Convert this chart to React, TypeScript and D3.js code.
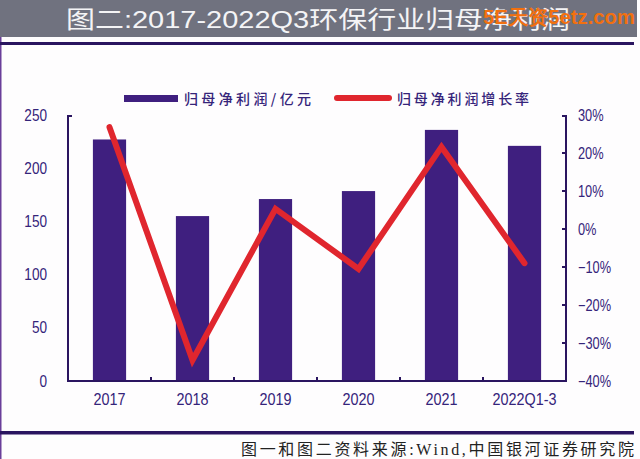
import React, { useEffect, useRef } from 'react';
import * as d3 from 'd3';

const categories = ['2017', '2018', '2019', '2020', '2021', '2022Q1-3'];
const profit = [227, 155, 171, 178.5, 236, 221];
const growth = [26.8, -34.5, 5.3, -10.5, 21.6, -9];
const leftTicks = [0, 50, 100, 150, 200, 250];
const rightTicks = [-40, -30, -20, -10, 0, 10, 20, 30];

const purple = '#3f1f7f';
const dark = '#2a1560';
const labelColor = '#35247a';
const red = '#e0262e';
const sans = '"Liberation Sans", Arial, sans-serif';
const cjk = '"Noto Sans CJK SC", sans-serif';

const App: React.FC = () => {
  const ref = useRef<SVGSVGElement>(null);

  useEffect(() => {
    if (!ref.current) return;
    const svg = d3.select(ref.current);
    svg.selectAll('*').remove();

    const left = 68;
    const right = 566;
    const top = 115;
    const bottom = 381;

    // page frame and title band
    svg.append('rect').attr('width', 640).attr('height', 459).attr('fill', '#fefdfe');
    svg.append('rect').attr('x', 0).attr('y', 0).attr('width', 1.5).attr('height', 459).attr('fill', '#6a3f9a');
    svg.append('rect').attr('x', 0).attr('y', 0).attr('width', 637).attr('height', 37).attr('fill', '#70727f');
    svg.append('rect').attr('x', 0).attr('y', 42).attr('width', 634).attr('height', 3).attr('fill', dark);
    svg.append('rect').attr('x', 0).attr('y', 431).attr('width', 634).attr('height', 3.5).attr('fill', dark);

    svg.append('text')
      .attr('x', 66).attr('y', 28)
      .attr('font-family', '"Liberation Sans", "Noto Sans CJK SC", sans-serif')
      .attr('font-size', 24).attr('fill', '#f4f4f6')
      .attr('textLength', 504).attr('lengthAdjust', 'spacingAndGlyphs')
      .text('图二:2017-2022Q3环保行业归母净利润');

    svg.append('text')
      .attr('x', 483).attr('y', 24)
      .attr('font-family', sans).attr('font-weight', 'bold').attr('font-size', 20).attr('fill', '#f2700f')
      .attr('textLength', 152).attr('lengthAdjust', 'spacingAndGlyphs')
      .text('5E天资5etz.com');

    const x = d3.scaleBand<string>().domain(categories).range([left, right]).paddingInner(0.6).paddingOuter(0.3);
    const xPoint = (c: string) => (x(c) as number) + x.bandwidth() / 2;
    const yLeft = d3.scaleLinear().domain([0, 250]).range([bottom, top]);
    const yRight = d3.scaleLinear().domain([-40, 30]).range([bottom, top]);

    // bars
    svg.append('g').selectAll('rect')
      .data(profit)
      .enter()
      .append('rect')
      .attr('x', (d, i) => x(categories[i]) as number)
      .attr('y', d => yLeft(d))
      .attr('width', x.bandwidth())
      .attr('height', d => bottom - yLeft(d))
      .attr('fill', purple);

    // axes frame
    const frame = svg.append('g').attr('stroke', dark).attr('stroke-width', 2).attr('fill', 'none');
    frame.append('path').attr('d', `M${left + 4},${top + 1}H${left}V${bottom}H${right}V${top + 1}H${right - 4}`);

    // x ticks between the categories
    const step = (right - left) / categories.length;
    d3.range(1, categories.length).forEach(i => {
      frame.append('line')
        .attr('x1', left + step * i).attr('x2', left + step * i)
        .attr('y1', bottom).attr('y2', bottom - 4);
    });
    rightTicks.slice(1, -1).forEach(t => {
      frame.append('line')
        .attr('x1', right).attr('x2', right - 4)
        .attr('y1', yRight(t)).attr('y2', yRight(t));
    });

    // tick labels
    const labels = svg.append('g').attr('font-family', sans).attr('fill', labelColor).attr('font-size', 16);
    leftTicks.forEach(t => {
      labels.append('text')
        .attr('x', 47).attr('y', yLeft(t)).attr('dy', '0.35em').attr('text-anchor', 'end')
        .attr('transform', `translate(47,0) scale(0.85,1) translate(-47,0)`)
        .text(t);
    });
    rightTicks.forEach(t => {
      labels.append('text')
        .attr('x', 578).attr('y', yRight(t)).attr('dy', '0.35em')
        .attr('transform', `translate(578,0) scale(0.8,1) translate(-578,0)`)
        .text(`${t}%`.replace('-', '−'));
    });
    categories.forEach(c => {
      labels.append('text')
        .attr('x', xPoint(c)).attr('y', 399).attr('dy', '0.35em').attr('text-anchor', 'middle')
        .attr('transform', `translate(${xPoint(c)},0) scale(0.9,1) translate(${-xPoint(c)},0)`)
        .text(c);
    });

    // growth line
    const line = d3.line<number>()
      .x((d, i) => xPoint(categories[i]))
      .y(d => yRight(d));
    svg.append('path')
      .datum(growth)
      .attr('d', line)
      .attr('fill', 'none')
      .attr('stroke', red)
      .attr('stroke-width', 6)
      .attr('stroke-linejoin', 'miter')
      .attr('stroke-linecap', 'round');

    // legend
    svg.append('rect').attr('x', 124).attr('y', 95).attr('width', 54).attr('height', 7).attr('fill', purple);
    svg.append('text')
      .attr('x', 184).attr('y', 104)
      .attr('font-family', cjk).attr('font-size', 14).attr('font-weight', 500).attr('fill', labelColor)
      .attr('textLength', 127).attr('lengthAdjust', 'spacing')
      .text('归母净利润/亿元');
    svg.append('line')
      .attr('x1', 337).attr('x2', 389).attr('y1', 98).attr('y2', 98)
      .attr('stroke', red).attr('stroke-width', 6).attr('stroke-linecap', 'round');
    svg.append('text')
      .attr('x', 397).attr('y', 104)
      .attr('font-family', cjk).attr('font-size', 14).attr('font-weight', 500).attr('fill', labelColor)
      .attr('textLength', 132).attr('lengthAdjust', 'spacing')
      .text('归母净利润增长率');

    // source note
    svg.append('text')
      .attr('x', 241).attr('y', 455)
      .attr('font-family', '"Liberation Serif", "Noto Sans CJK SC", serif').attr('font-size', 16).attr('fill', '#222')
      .attr('textLength', 393).attr('lengthAdjust', 'spacing')
      .text('图一和图二资料来源:Wind,中国银河证券研究院');
  }, []);

  return <svg ref={ref} width={640} height={459} style={{ position: 'absolute', left: 0, top: 0 }} />;
};

export default App;
